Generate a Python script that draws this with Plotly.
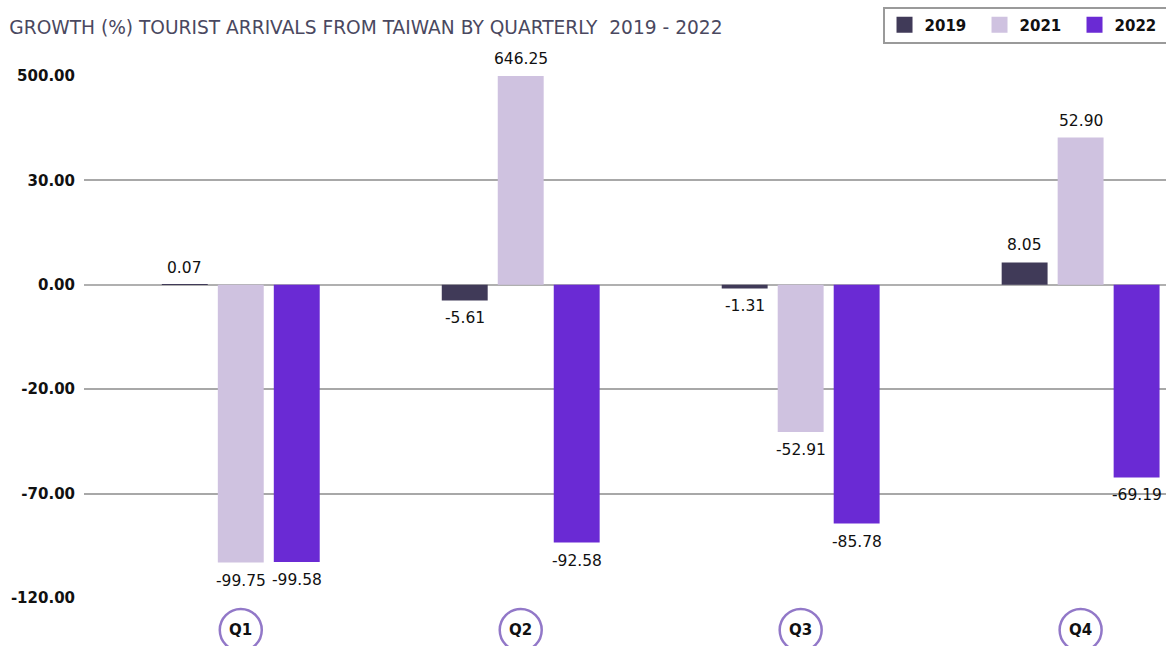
import plotly.graph_objects as go

quarters = ["Q1", "Q2", "Q3", "Q4"]
years = ["2019", "2021", "2022"]
growth_2019 = [0.07, -5.61, -1.31, 8.05]
growth_2021 = [-99.75, 646.25, -52.91, 52.90]
growth_2022 = [-99.58, -92.58, -85.78, -69.19]
tick_labels = ["500.00", "30.00", "0.00", "-20.00", "-70.00", "-120.00"]

series = [growth_2019, growth_2021, growth_2022]
colors = ["#403a58", "#cfc2e0", "#6a2ad4"]

FONT = "DejaVu Sans, sans-serif"
Y_MIN, Y_MAX = -112.5, 75
tick_vals = [75, 37.5, 0, -37.5, -75, -112.5]
xs = list(range(len(quarters)))
slot = 0.2

fig = go.Figure()
for yr, vals, col in zip(years, series, colors):
    fig.add_trace(go.Bar(x=xs, y=vals, name=yr, showlegend=False,
                         marker=dict(color=col, line=dict(width=0))))
# legend entries with bigger square swatches
for yr, col in zip(years, colors):
    fig.add_trace(go.Scatter(x=[None], y=[None], name=yr, mode="markers",
                             marker=dict(symbol="square", size=18, color=col)))

# value labels, clipped to the visible range
for i, vals in enumerate(series):
    off = (i - 1) * slot
    for x, v in zip(xs, vals):
        yv = min(max(v, Y_MIN), Y_MAX)
        fig.add_annotation(x=x + off, y=yv, text=f"{v:.2f}", showarrow=False,
                           yanchor="middle", yshift=17 if v >= 0 else -18,
                           font=dict(size=15.5, color="#111111", family=FONT))

# quarter labels in circles
for j, q in enumerate(quarters):
    fig.add_shape(type="circle", xref="x", yref="paper", xsizemode="pixel", ysizemode="pixel",
                  xanchor=j, yanchor=0, x0=-21, x1=21, y0=-53, y1=-11,
                  line=dict(color="#9278c8", width=2.5), fillcolor="white")
    fig.add_annotation(x=j, y=0, xref="x", yref="paper", yanchor="middle", yshift=-32,
                       text=f"<b>{q}</b>", showarrow=False,
                       font=dict(size=15, color="#111111", family=FONT))

fig.update_layout(
    width=1166, height=646,
    margin=dict(l=84, r=0, t=76, b=48, autoexpand=False),
    paper_bgcolor="white", plot_bgcolor="white",
    barmode="group", bargap=0.4, bargroupgap=0.18,
    font=dict(family=FONT, color="#111111"),
    title=dict(text="GROWTH (%) TOURIST ARRIVALS FROM TAIWAN BY QUARTERLY  2019 - 2022",
               x=0.008, xanchor="left", y=0.958, yanchor="middle",
               font=dict(size=18.6, color="#4a4860", family=FONT)),
    legend=dict(orientation="h", x=0.738, xanchor="left", y=1.133, yanchor="top",
                bordercolor="#9a9a9a", borderwidth=2, bgcolor="white",
                font=dict(size=15, color="#111111", family=FONT, weight="bold"),
                itemwidth=30, entrywidth=50, entrywidthmode="pixels", traceorder="normal"),
    xaxis=dict(range=[-0.56, 3.305], showticklabels=False, showgrid=False, zeroline=False,
               showline=False, fixedrange=True),
    yaxis=dict(range=[Y_MIN, Y_MAX], tickvals=tick_vals, ticktext=tick_labels,
               showgrid=True, gridcolor="#a8a8a8", gridwidth=1.5,
               zeroline=True, zerolinecolor="#b0b0b0", zerolinewidth=2,
               tickfont=dict(size=15, color="#111111", family=FONT, weight="bold"),
               ticks="", ticklabelstandoff=8),
)

fig.write_html("out.html", config=dict(displayModeBar=False),
               post_script="document.body.style.margin='0';document.body.style.overflow='hidden';")
